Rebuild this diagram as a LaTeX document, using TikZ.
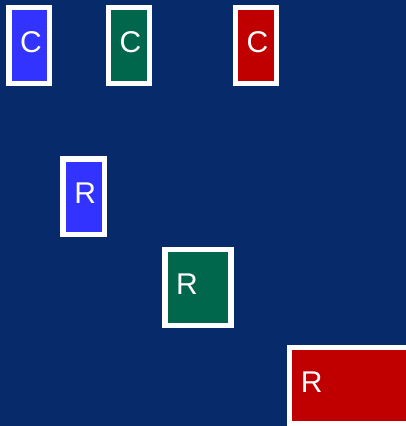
\documentclass[tikz,border=0pt]{standalone}
\usepackage{fontspec}
\setmainfont{Liberation Sans}
\usetikzlibrary{positioning}

\definecolor{navy}{HTML}{072A6A}
\definecolor{cblue}{HTML}{3333FF}
\definecolor{cgreen}{HTML}{00664C}
\definecolor{cred}{HTML}{C00000}

\tikzset{
  box/.style={draw=white,line width=5.5pt,inner sep=0pt,outer sep=0pt},
  lbl/.style={anchor=base west,inner sep=0pt,text=white,font=\fontsize{30}{31}\selectfont}
}

\begin{document}
\begin{tikzpicture}[x=1pt,y=-1pt]
\fill[navy] (0,0) rectangle (406,426);
\useasboundingbox (0,0) rectangle (406,426);
\clip (0,0) rectangle (406,426);
\foreach \nm/\col/\cx/\cy/\w/\h/\t in {
  c1/cblue/29.2/45.5/40.5/75.6/C,
  c2/cgreen/129/45.5/41.4/75.6/C,
  c3/cred/255.8/45.5/41/75.6/C,
  r1/cblue/83.7/196.7/41.3/75.3/R,
  r2/cgreen/198/287.7/66/76/R,
  r3/cred/354.7/385.3/130/76/R
}
\node at(\cx,\cy)[box,fill=\col,minimum width=\w pt,minimum height=\h pt](\nm){}
    node at([xshift=11pt,yshift=-7pt]\nm.west)[lbl]{\t};
\end{tikzpicture}
\end{document}
